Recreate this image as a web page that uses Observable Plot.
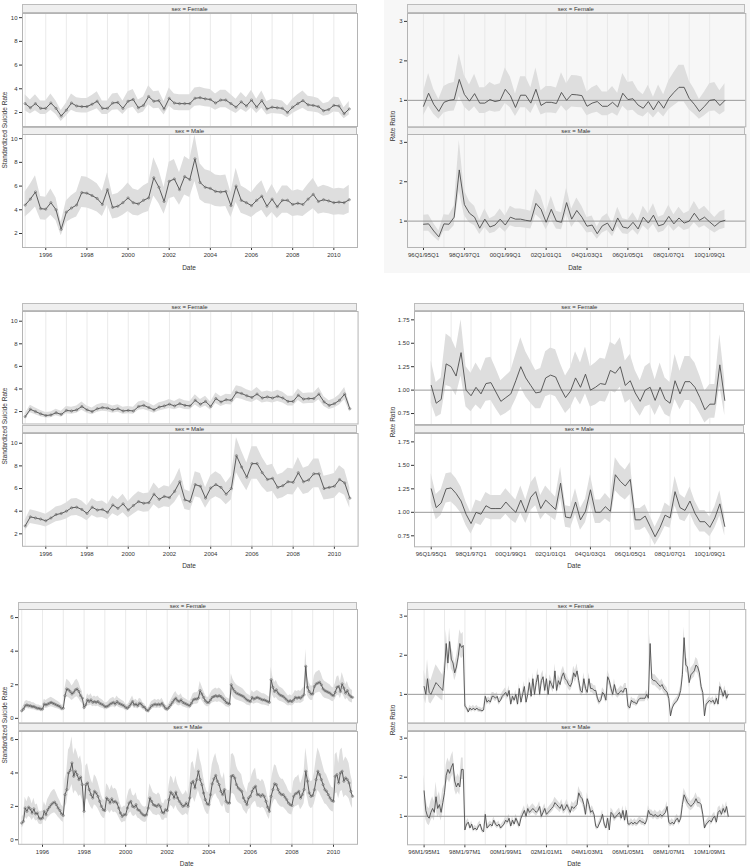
<!DOCTYPE html>
<html><head><meta charset="utf-8">
<script src="https://cdn.jsdelivr.net/npm/d3@7"></script>
<script src="https://cdn.jsdelivr.net/npm/@observablehq/plot@0.6"></script>
<style>
html,body{margin:0;padding:0;background:#fff;}
#root{position:relative;width:750px;height:866px;overflow:hidden;font-family:"Liberation Sans",Arial,sans-serif;color:#333;}
.strip{position:absolute;box-sizing:border-box;background:#efefef;border:1px solid #bcbcbc;font-size:6px;color:#333;display:flex;align-items:center;justify-content:center;white-space:nowrap;}
.lbl{position:absolute;font-size:6.5px;color:#333;white-space:nowrap;}
</style></head><body><div id="root"></div>
<script>
// ---------- tick labels ----------
const gridYears = [1995,1996,1997,1998,1999,2000,2001,2002,2003,2004,2005,2006,2007,2008,2009,2010];
const yearTicks = [1996,1998,2000,2002,2004,2006,2008,2010];
const quarterTickLabels = ["96Q1/95Q1","98Q1/97Q1","00Q1/99Q1","02Q1/01Q1","04Q1/03Q1","06Q1/05Q1","08Q1/07Q1","10Q1/09Q1"];
const monthTickLabels = ["96M1/95M1","98M1/97M1","00M1/99M1","02M1/01M1","04M1/03M1","06M1/05M1","08M1/07M1","10M1/09M1"];
const sexLabels = ["sex = Female","sex = Male"];

// ---------- Panel 1: quarterly standardized suicide rate ----------
const rateA_F = [2.75,2.4,2.75,2.35, 2.35,2.8,2.35,1.7, 2.2,2.8,2.55,2.5, 2.5,2.7,2.95,2.35, 2.35,2.8,2.85,2.35, 2.95,3.1,2.4,2.6, 3.35,2.95,3.0,2.3, 3.2,2.8,2.75,2.75, 2.75,3.2,3.25,3.15, 3.1,2.8,3.05,3.05, 2.75,2.45,2.9,2.55, 3.05,2.45,3.0,2.3, 2.45,2.4,2.35,2.0, 2.45,2.75,3.0,2.65, 2.6,2.5,2.15,2.25, 2.6,2.55,1.9,2.3];
const rateA_F_lo = [2.15,1.88,2.15,1.83, 1.83,2.2,1.83,1.25, 1.7,2.2,2.0,1.95, 1.95,2.12,2.32,1.83, 1.83,2.2,2.24,1.83, 2.32,2.45,1.88,2.04, 2.65,2.32,2.36,1.8, 2.52,2.2,2.15,2.15, 2.15,2.52,2.56,2.48, 2.45,2.2,2.4,2.4, 2.15,1.92,2.28,2.0, 2.4,1.92,2.36,1.8, 1.92,1.88,1.83,1.56, 1.92,2.15,2.36,2.08, 2.04,1.95,1.68,1.76, 2.04,2.0,1.48,1.8];
const rateA_F_hi = [3.49,3.05,3.49,2.98, 2.98,3.56,2.98,2.16, 2.79,3.56,3.24,3.18, 3.18,3.43,3.75,2.98, 2.98,3.56,3.62,2.98, 3.75,3.94,3.05,3.3, 4.25,3.75,3.81,2.92, 4.06,3.56,3.49,3.49, 3.49,4.06,4.13,4.0, 3.94,3.56,3.87,3.87, 3.49,3.11,3.68,3.24, 3.87,3.11,3.81,2.92, 3.11,3.05,2.98,2.54, 3.11,3.49,3.81,3.37, 3.3,3.18,2.73,2.86, 3.3,3.24,2.41,2.92];
const rateA_M = [4.4,4.9,5.5,4.1, 4.05,4.6,4.0,2.35, 3.8,4.15,4.4,5.45, 5.4,5.2,4.95,4.45, 5.7,4.2,4.3,4.6, 5.0,4.6,4.5,4.8, 5.0,6.7,5.9,4.7, 6.4,6.6,5.7,6.8, 6.55,8.3,6.3,5.9, 5.8,5.55,5.5,5.55, 4.35,6.0,4.8,4.6, 4.35,4.8,5.15,4.3, 4.9,4.25,4.8,4.8, 4.45,4.55,4.45,4.9, 5.3,4.7,4.85,4.75, 4.6,4.65,4.6,4.85];
const rateA_M_lo = [3.39,3.77,4.24,3.16, 3.12,3.54,3.08,1.81, 2.93,3.2,3.39,4.2, 4.16,4.0,3.81,3.43, 4.39,3.23,3.31,3.54, 3.85,3.54,3.47,3.7, 3.85,5.16,4.54,3.62, 4.93,5.08,4.39,5.24, 5.04,6.39,4.85,4.54, 4.47,4.27,4.24,4.27, 3.35,4.62,3.7,3.54, 3.35,3.7,3.97,3.31, 3.77,3.27,3.7,3.7, 3.43,3.5,3.43,3.77, 4.08,3.62,3.73,3.66, 3.54,3.58,3.54,3.73];
const rateA_M_hi = [5.5,6.13,6.88,5.13, 5.06,5.75,5.0,2.94, 4.75,5.19,5.5,6.81, 6.75,6.5,6.19,5.56, 7.13,5.25,5.38,5.75, 6.25,5.75,5.63,6.0, 6.25,8.38,7.38,5.88, 8.0,8.25,7.13,8.5, 8.19,10.3,7.88,7.38, 7.25,6.94,6.88,6.94, 5.44,7.5,6.0,5.75, 5.44,6.0,6.44,5.38, 6.13,5.31,6.0,6.0, 5.56,5.69,5.56,6.13, 6.63,5.88,6.06,5.94, 5.75,5.81,5.75,6.06];

// ---------- Panel 2: quarterly rate ratio ----------
const rrA_F = [0.85,1.18,0.9,0.72,0.95,1.0,1.02,1.53,1.15,0.98, 1.17,0.93,0.93,1.02,0.97,1.0,1.28,1.12,0.82,1.13, 1.13,0.93,1.28,0.87,0.95,0.95,0.92,1.2,1.0,1.15, 1.14,1.12,0.85,0.93,0.97,0.85,0.85,0.95,0.83,1.18, 1.02,1.04,0.88,0.8,0.97,0.76,0.98,0.8,1.05,1.2, 1.33,1.33,1.05,0.9,0.72,0.85,1.0,1.02,0.87,1.0];
const rrA_F_lo = [0.61,0.85,0.65,0.52,0.68,0.72,0.73,1.1,0.83,0.71, 0.84,0.67,0.67,0.73,0.7,0.72,0.92,0.81,0.59,0.81, 0.81,0.67,0.92,0.63,0.68,0.68,0.66,0.86,0.72,0.83, 0.82,0.81,0.61,0.67,0.7,0.61,0.61,0.68,0.6,0.85, 0.73,0.75,0.63,0.58,0.7,0.55,0.71,0.58,0.76,0.86, 0.96,0.96,0.76,0.65,0.52,0.61,0.72,0.73,0.63,0.72];
const rrA_F_hi = [1.21,1.68,1.28,1.02,1.35,1.42,1.45,2.17,1.63,1.39, 1.66,1.32,1.32,1.45,1.38,1.42,1.82,1.59,1.16,1.6, 1.6,1.32,1.82,1.24,1.35,1.35,1.31,1.7,1.42,1.63, 1.62,1.59,1.21,1.32,1.38,1.21,1.21,1.35,1.18,1.68, 1.45,1.48,1.25,1.14,1.38,1.08,1.39,1.14,1.49,1.7, 1.89,1.89,1.49,1.28,1.02,1.21,1.42,1.45,1.24,1.42];
const rrA_M = [0.92,0.93,0.75,0.6,0.93,0.92,1.1,2.3,1.42,1.2, 1.1,0.82,1.05,0.85,0.9,1.05,0.9,1.1,1.05,1.05, 1.02,1.0,1.45,1.3,0.97,1.3,1.0,0.97,1.47,1.05, 1.27,1.1,0.87,0.9,0.68,0.88,0.95,0.75,1.08,0.85, 0.82,0.97,0.8,1.1,0.95,1.15,0.88,0.92,1.12,0.93, 1.08,0.95,1.0,1.2,1.02,1.1,0.98,0.87,0.98,1.02];
const rrA_M_lo = [0.74,0.74,0.6,0.48,0.74,0.74,0.88,1.75,1.14,0.96, 0.88,0.66,0.84,0.68,0.72,0.84,0.72,0.88,0.84,0.84, 0.82,0.8,1.16,1.04,0.78,1.04,0.8,0.78,1.18,0.84, 1.02,0.88,0.7,0.72,0.54,0.7,0.76,0.6,0.86,0.68, 0.66,0.78,0.64,0.88,0.76,0.92,0.7,0.74,0.9,0.74, 0.86,0.76,0.8,0.96,0.82,0.88,0.78,0.7,0.78,0.82];
const rrA_M_hi = [1.15,1.16,0.94,0.75,1.16,1.15,1.38,3.05,1.78,1.5, 1.38,1.03,1.31,1.06,1.13,1.31,1.13,1.38,1.31,1.31, 1.28,1.25,1.81,1.63,1.21,1.63,1.25,1.21,1.84,1.31, 1.59,1.38,1.09,1.13,0.85,1.1,1.19,0.94,1.35,1.06, 1.03,1.21,1.0,1.38,1.19,1.44,1.1,1.15,1.4,1.16, 1.35,1.19,1.25,1.5,1.28,1.38,1.23,1.09,1.23,1.28];

// ---------- Panel 3: quarterly standardized suicide rate ----------
const rateB_F = [1.55,2.2,2.0,1.8, 1.65,1.7,1.9,1.75, 2.1,2.05,2.15,2.45, 2.15,2.0,2.25,2.35, 2.3,2.15,2.25,2.05, 2.1,2.05,2.45,2.55, 2.35,2.15,2.4,2.5, 2.65,2.5,2.7,2.55, 2.5,3.0,2.65,2.9, 2.45,3.15,2.85,3.05, 3.0,3.7,3.6,3.4, 3.25,3.55,3.2,3.3, 3.2,3.35,3.2,2.9, 2.9,3.45,3.1,3.15, 3.15,3.55,2.85,2.55, 2.7,3.0,3.55,2.25];
const rateB_F_lo = [1.33,1.89,1.72,1.55, 1.42,1.46,1.63,1.5, 1.81,1.76,1.85,2.11, 1.85,1.72,1.94,2.02, 1.98,1.85,1.94,1.76, 1.81,1.76,2.11,2.19, 2.02,1.85,2.06,2.15, 2.28,2.15,2.32,2.19, 2.15,2.58,2.28,2.49, 2.11,2.71,2.45,2.62, 2.58,3.18,3.1,2.92, 2.8,3.05,2.75,2.84, 2.75,2.88,2.75,2.49, 2.49,2.97,2.67,2.71, 2.71,3.05,2.45,2.19, 2.32,2.58,3.05,1.94];
const rateB_F_hi = [1.8,2.55,2.32,2.09, 1.91,1.97,2.2,2.03, 2.44,2.38,2.49,2.84, 2.49,2.32,2.61,2.73, 2.67,2.49,2.61,2.38, 2.44,2.38,2.84,2.96, 2.73,2.49,2.78,2.9, 3.07,2.9,3.13,2.96, 2.9,3.48,3.07,3.36, 2.84,3.65,3.31,3.54, 3.48,4.29,4.18,3.94, 3.77,4.12,3.71,3.83, 3.71,3.89,3.71,3.36, 3.36,4.0,3.6,3.65, 3.65,4.12,3.31,2.96, 3.13,3.48,4.12,2.61];
const rateB_M = [2.7,3.5,3.4,3.3, 3.15,3.4,3.7,3.8, 4.0,4.3,4.35,4.15, 3.8,4.35,4.1,4.15, 3.9,4.55,4.25,4.65, 4.1,4.5,4.85,4.7, 4.75,5.5,5.05,5.3, 5.2,5.75,6.6,5.0, 4.85,6.35,6.2,5.15, 6.05,6.35,6.1,5.5, 6.0,8.9,7.9,7.0, 8.2,8.2,7.4,6.8, 6.9,6.1,6.25,6.6, 6.55,7.4,6.6,6.75, 7.3,7.3,6.0,6.1, 6.2,6.8,6.5,5.15];
const rateB_M_lo = [2.24,2.91,2.82,2.74, 2.61,2.82,3.07,3.15, 3.32,3.57,3.61,3.44, 3.15,3.61,3.4,3.44, 3.24,3.78,3.53,3.86, 3.4,3.74,4.03,3.9, 3.94,4.57,4.19,4.4, 4.32,4.77,5.48,4.15, 4.03,5.27,5.15,4.27, 5.02,5.27,5.06,4.57, 4.98,7.39,6.56,5.81, 6.81,6.81,6.14,5.64, 5.73,5.06,5.19,5.48, 5.44,6.14,5.48,5.6, 6.06,6.06,4.98,5.06, 5.15,5.64,5.4,4.27];
const rateB_M_hi = [3.19,4.13,4.01,3.89, 3.72,4.01,4.37,4.48, 4.72,5.07,5.13,4.9, 4.48,5.13,4.84,4.9, 4.6,5.37,5.02,5.49, 4.84,5.31,5.72,5.55, 5.61,6.49,5.96,6.25, 6.14,6.79,7.79,5.9, 5.72,7.49,7.32,6.08, 7.14,7.49,7.2,6.49, 7.08,10.5,9.32,8.26, 9.68,9.68,8.73,8.02, 8.14,7.2,7.38,7.79, 7.73,8.73,7.79,7.97, 8.61,8.61,7.08,7.2, 7.32,8.02,7.67,6.08];

// ---------- Panel 4: quarterly rate ratio ----------
const rrB_F = [1.05,0.86,0.9,1.28,1.25,1.15,1.4,1.0,0.94,1.03, 0.96,1.07,1.08,0.98,0.88,0.92,0.96,1.1,1.25,1.13, 1.05,0.97,0.98,1.13,1.16,1.14,1.02,0.92,0.99,1.13, 1.03,1.17,1.0,1.03,1.07,1.06,1.21,1.18,1.25,1.05, 1.1,0.97,0.88,1.0,1.03,0.89,1.03,0.9,0.86,1.1, 0.96,1.09,1.09,1.03,0.92,0.79,0.85,0.85,1.27,0.89];
const rrB_F_lo = [0.86,0.71,0.74,1.05,1.03,0.94,1.15,0.82,0.77,0.84, 0.79,0.88,0.89,0.8,0.72,0.75,0.79,0.9,1.03,0.93, 0.86,0.8,0.8,0.93,0.95,0.93,0.84,0.75,0.81,0.93, 0.84,0.96,0.82,0.84,0.88,0.87,0.99,0.97,1.03,0.86, 0.9,0.8,0.72,0.82,0.84,0.73,0.84,0.74,0.71,0.9, 0.79,0.89,0.89,0.84,0.75,0.65,0.7,0.7,1.04,0.73];
const rrB_F_hi = [1.31,1.08,1.13,1.6,1.56,1.44,1.75,1.25,1.18,1.29, 1.2,1.34,1.35,1.23,1.1,1.15,1.2,1.38,1.56,1.41, 1.31,1.21,1.23,1.41,1.45,1.43,1.28,1.15,1.24,1.41, 1.29,1.46,1.25,1.29,1.34,1.33,1.51,1.48,1.56,1.31, 1.38,1.21,1.1,1.25,1.29,1.11,1.29,1.13,1.08,1.38, 1.2,1.36,1.36,1.29,1.15,0.99,1.06,1.06,1.59,1.11];
const rrB_M = [1.25,1.05,1.1,1.25,1.26,1.2,1.12,0.98,0.88,1.0, 0.98,1.07,1.04,1.04,1.04,1.11,1.05,1.0,1.13,1.0, 1.16,1.22,1.04,1.13,1.08,1.03,1.31,0.95,0.94,1.11, 0.92,1.01,1.24,1.0,1.0,1.06,1.01,1.4,1.33,1.28, 1.35,0.92,0.92,0.96,0.85,0.74,0.84,0.97,0.94,1.22, 1.05,1.02,1.12,0.99,0.9,0.9,0.84,0.94,1.09,0.85];
const rrB_M_lo = [1.1,0.92,0.97,1.1,1.11,1.06,0.99,0.86,0.77,0.88, 0.86,0.94,0.92,0.92,0.92,0.98,0.92,0.88,0.99,0.88, 1.02,1.07,0.92,0.99,0.95,0.91,1.15,0.84,0.83,0.98, 0.81,0.89,1.09,0.88,0.88,0.93,0.89,1.23,1.17,1.13, 1.19,0.81,0.81,0.84,0.75,0.65,0.74,0.85,0.83,1.07, 0.92,0.9,0.99,0.87,0.79,0.79,0.74,0.83,0.96,0.75];
const rrB_M_hi = [1.41,1.19,1.24,1.41,1.42,1.36,1.27,1.11,0.99,1.13, 1.11,1.21,1.18,1.18,1.18,1.25,1.19,1.13,1.28,1.13, 1.31,1.38,1.18,1.28,1.22,1.16,1.48,1.07,1.06,1.25, 1.04,1.14,1.4,1.13,1.13,1.2,1.14,1.58,1.5,1.45, 1.53,1.04,1.04,1.08,0.96,0.84,0.95,1.1,1.06,1.38, 1.19,1.15,1.27,1.12,1.02,1.02,0.95,1.06,1.23,0.96];

// ---------- Panel 5: monthly standardized suicide rate ----------
const rateC_F = [
0.45,0.55,0.75,0.8,0.75,0.75,0.7,0.7,0.65,0.6,0.6,0.55,
0.55,0.85,0.8,0.85,0.9,0.95,0.9,0.85,0.8,0.75,0.7,0.6,
0.6,1.35,1.75,1.7,1.6,1.45,1.55,1.7,1.75,1.6,1.35,1.2,
0.65,0.8,1.1,1.0,1.1,0.95,1.0,0.95,1.0,0.9,0.85,0.8,
0.7,0.7,0.75,0.85,0.9,0.95,0.85,1.0,0.9,0.85,0.8,0.75,
0.65,0.6,0.7,0.85,1.0,0.8,0.85,0.75,0.9,0.85,0.7,0.65,
0.5,0.45,0.6,0.75,0.8,0.85,0.8,0.85,0.8,0.9,0.75,0.6,
0.55,0.65,0.8,0.95,1.1,1.2,1.05,1.0,1.1,0.95,0.9,0.85,
0.8,0.75,0.9,1.1,1.15,1.15,1.2,1.65,1.45,1.25,1.05,0.95,
0.95,1.1,1.25,1.3,1.35,1.3,1.35,1.3,1.2,1.1,0.95,0.9,
0.85,2.0,1.75,1.6,1.5,1.45,1.4,1.35,1.3,1.2,1.1,1.05,
1.0,1.25,1.15,1.2,1.25,1.2,1.15,1.1,1.1,1.05,1.0,0.95,
2.3,1.85,1.6,1.7,1.5,1.4,1.35,1.3,1.2,1.1,1.0,1.05,
1.0,1.1,1.25,1.2,1.25,1.2,1.3,1.4,3.1,1.85,1.6,1.45,
1.45,1.9,2.05,2.1,2.15,2.0,1.75,1.65,1.6,1.55,1.5,1.4,
1.35,1.55,1.85,1.9,1.6,2.05,1.8,1.5,1.65,1.4,1.3,1.25];
const rateC_F_lo = [
0.33,0.4,0.55,0.58,0.55,0.55,0.51,0.51,0.47,0.44,0.44,0.4,
0.4,0.62,0.58,0.62,0.66,0.69,0.66,0.62,0.58,0.55,0.51,0.44,
0.44,0.99,1.28,1.24,1.17,1.06,1.13,1.24,1.28,1.17,0.99,0.88,
0.47,0.58,0.8,0.73,0.8,0.69,0.73,0.69,0.73,0.66,0.62,0.58,
0.51,0.51,0.55,0.62,0.66,0.69,0.62,0.73,0.66,0.62,0.58,0.55,
0.47,0.44,0.51,0.62,0.73,0.58,0.62,0.55,0.66,0.62,0.51,0.47,
0.37,0.33,0.44,0.55,0.58,0.62,0.58,0.62,0.58,0.66,0.55,0.44,
0.4,0.47,0.58,0.69,0.8,0.88,0.77,0.73,0.8,0.69,0.66,0.62,
0.58,0.55,0.66,0.8,0.84,0.84,0.88,1.2,1.06,0.91,0.77,0.69,
0.69,0.8,0.91,0.95,0.99,0.95,0.99,0.95,0.88,0.8,0.69,0.66,
0.62,1.46,1.28,1.17,1.1,1.06,1.02,0.99,0.95,0.88,0.8,0.77,
0.73,0.91,0.84,0.88,0.91,0.88,0.84,0.8,0.8,0.77,0.73,0.69,
1.68,1.35,1.17,1.24,1.1,1.02,0.99,0.95,0.88,0.8,0.73,0.77,
0.73,0.8,0.91,0.88,0.91,0.88,0.95,1.02,2.26,1.35,1.17,1.06,
1.06,1.39,1.5,1.53,1.57,1.46,1.28,1.2,1.17,1.13,1.1,1.02,
0.99,1.13,1.35,1.39,1.17,1.5,1.31,1.1,1.2,1.02,0.95,0.91];
const rateC_F_hi = [
0.6,0.73,1.0,1.06,1.0,1.0,0.93,0.93,0.86,0.8,0.8,0.73,
0.73,1.13,1.06,1.13,1.2,1.26,1.2,1.13,1.06,1.0,0.93,0.8,
0.8,1.8,2.33,2.26,2.13,1.93,2.06,2.26,2.33,2.13,1.8,1.6,
0.86,1.06,1.46,1.33,1.46,1.26,1.33,1.26,1.33,1.2,1.13,1.06,
0.93,0.93,1.0,1.13,1.2,1.26,1.13,1.33,1.2,1.13,1.06,1.0,
0.86,0.8,0.93,1.13,1.33,1.06,1.13,1.0,1.2,1.13,0.93,0.86,
0.67,0.6,0.8,1.0,1.06,1.13,1.06,1.13,1.06,1.2,1.0,0.8,
0.73,0.86,1.06,1.26,1.46,1.6,1.4,1.33,1.46,1.26,1.2,1.13,
1.06,1.0,1.2,1.46,1.53,1.53,1.6,2.19,1.93,1.66,1.4,1.26,
1.26,1.46,1.66,1.73,1.8,1.73,1.8,1.73,1.6,1.46,1.26,1.2,
1.13,2.66,2.33,2.13,2.0,1.93,1.86,1.8,1.73,1.6,1.46,1.4,
1.33,1.66,1.53,1.6,1.66,1.6,1.53,1.46,1.46,1.4,1.33,1.26,
3.06,2.46,2.13,2.26,2.0,1.86,1.8,1.73,1.6,1.46,1.33,1.4,
1.33,1.46,1.66,1.6,1.66,1.6,1.73,1.86,4.12,2.46,2.13,1.93,
1.93,2.53,2.73,2.79,2.86,2.66,2.33,2.19,2.13,2.06,2.0,1.86,
1.8,2.06,2.46,2.53,2.13,2.73,2.39,2.0,2.19,1.86,1.73,1.66];
const rateC_M = [
1.0,1.1,1.9,1.7,1.95,1.85,1.6,1.85,1.55,1.6,1.3,1.25,
1.3,1.7,1.5,1.8,1.95,2.1,2.2,2.25,2.1,1.9,1.75,1.55,
1.45,2.7,3.0,4.0,4.15,4.6,3.8,4.1,3.9,3.6,3.75,3.3,
1.7,3.3,3.4,3.0,2.7,2.5,2.9,2.8,2.6,2.3,2.0,1.8,
1.75,2.5,2.4,2.2,2.45,2.25,2.3,2.2,1.9,1.6,1.4,1.5,
1.5,1.9,2.2,2.3,2.0,1.95,2.1,1.8,1.75,1.6,1.5,1.45,
1.5,1.9,2.5,2.3,2.1,2.05,2.0,2.1,2.0,1.65,1.6,1.8,
1.75,2.4,2.85,2.75,2.5,2.85,2.5,2.3,2.15,2.0,2.05,2.2,
2.0,2.5,3.4,3.5,3.1,3.6,4.1,3.6,3.3,2.8,2.4,2.15,
2.1,2.7,3.35,3.65,3.85,3.5,3.3,2.9,2.7,3.0,2.3,2.2,
2.2,3.8,3.85,3.7,3.3,3.1,3.0,2.9,2.5,2.3,2.1,2.5,
2.6,2.9,3.1,3.2,2.7,2.7,2.6,2.7,2.6,2.3,1.95,1.7,
2.6,3.0,3.35,3.3,3.0,2.8,2.7,2.7,2.55,2.4,2.2,2.1,
2.05,2.6,2.75,2.8,2.9,2.5,2.7,3.0,4.1,3.5,2.8,2.6,
2.65,3.0,3.6,4.1,3.9,3.6,3.3,3.0,2.9,2.7,2.5,2.35,
2.3,3.8,3.9,3.4,4.0,4.1,3.5,3.7,3.6,3.4,2.9,2.6];
const rateC_M_lo = [
0.72,0.79,1.37,1.22,1.4,1.33,1.15,1.33,1.12,1.15,0.94,0.9,
0.94,1.22,1.08,1.3,1.4,1.51,1.58,1.62,1.51,1.37,1.26,1.12,
1.04,1.94,2.16,2.88,2.99,3.31,2.74,2.95,2.81,2.59,2.7,2.38,
1.22,2.38,2.45,2.16,1.94,1.8,2.09,2.02,1.87,1.66,1.44,1.3,
1.26,1.8,1.73,1.58,1.76,1.62,1.66,1.58,1.37,1.15,1.01,1.08,
1.08,1.37,1.58,1.66,1.44,1.4,1.51,1.3,1.26,1.15,1.08,1.04,
1.08,1.37,1.8,1.66,1.51,1.48,1.44,1.51,1.44,1.19,1.15,1.3,
1.26,1.73,2.05,1.98,1.8,2.05,1.8,1.66,1.55,1.44,1.48,1.58,
1.44,1.8,2.45,2.52,2.23,2.59,2.95,2.59,2.38,2.02,1.73,1.55,
1.51,1.94,2.41,2.63,2.77,2.52,2.38,2.09,1.94,2.16,1.66,1.58,
1.58,2.74,2.77,2.66,2.38,2.23,2.16,2.09,1.8,1.66,1.51,1.8,
1.87,2.09,2.23,2.3,1.94,1.94,1.87,1.94,1.87,1.66,1.4,1.22,
1.87,2.16,2.41,2.38,2.16,2.02,1.94,1.94,1.84,1.73,1.58,1.51,
1.48,1.87,1.98,2.02,2.09,1.8,1.94,2.16,2.95,2.52,2.02,1.87,
1.91,2.16,2.59,2.95,2.81,2.59,2.38,2.16,2.09,1.94,1.8,1.69,
1.66,2.74,2.81,2.45,2.88,2.95,2.52,2.66,2.59,2.45,2.09,1.87];
const rateC_M_hi = [
1.34,1.47,2.55,2.28,2.61,2.48,2.14,2.48,2.08,2.14,1.74,1.68,
1.74,2.28,2.01,2.41,2.61,2.81,2.95,3.02,2.81,2.55,2.35,2.08,
1.94,3.62,4.02,5.36,5.56,6.16,5.09,5.49,5.23,4.82,5.03,4.42,
2.28,4.42,4.56,4.02,3.62,3.35,3.89,3.75,3.48,3.08,2.68,2.41,
2.35,3.35,3.22,2.95,3.28,3.02,3.08,2.95,2.55,2.14,1.88,2.01,
2.01,2.55,2.95,3.08,2.68,2.61,2.81,2.41,2.35,2.14,2.01,1.94,
2.01,2.55,3.35,3.08,2.81,2.75,2.68,2.81,2.68,2.21,2.14,2.41,
2.35,3.22,3.82,3.69,3.35,3.82,3.35,3.08,2.88,2.68,2.75,2.95,
2.68,3.35,4.56,4.69,4.15,4.82,5.49,4.82,4.42,3.75,3.22,2.88,
2.81,3.62,4.49,4.89,5.16,4.69,4.42,3.89,3.62,4.02,3.08,2.95,
2.95,5.09,5.16,4.96,4.42,4.15,4.02,3.89,3.35,3.08,2.81,3.35,
3.48,3.89,4.15,4.29,3.62,3.62,3.48,3.62,3.48,3.08,2.61,2.28,
3.48,4.02,4.49,4.42,4.02,3.75,3.62,3.62,3.42,3.22,2.95,2.81,
2.75,3.48,3.69,3.75,3.89,3.35,3.62,4.02,5.49,4.69,3.75,3.48,
3.55,4.02,4.82,5.49,5.23,4.82,4.42,4.02,3.89,3.62,3.35,3.15,
3.08,5.09,5.23,4.56,5.36,5.49,4.69,4.96,4.82,4.56,3.89,3.48];

// ---------- Panel 6: monthly rate ratio ----------
const rrC_F = [
1.2,1.0,1.4,1.05,1.0,1.1,1.2,1.3,1.25,1.2,1.15,1.1,
1.6,2.3,1.8,2.35,1.9,1.8,1.55,1.7,1.95,2.3,2.2,2.25,
0.7,0.65,0.55,0.65,0.6,0.65,0.6,0.65,0.6,0.6,0.58,0.6,
0.95,0.8,0.85,0.8,0.95,0.95,0.9,0.95,0.8,0.85,0.95,1.0,
1.05,0.95,1.1,0.75,0.95,0.85,1.0,0.75,1.15,0.8,1.0,1.2,
0.8,1.0,1.3,0.95,1.4,1.0,1.3,1.5,1.0,1.35,1.45,1.1,
1.4,1.0,1.35,1.25,1.15,1.6,1.1,1.35,1.25,1.45,1.55,1.4,
1.35,1.25,1.2,1.3,1.55,1.45,1.6,1.35,1.1,1.05,1.4,1.15,
1.05,1.4,1.15,1.15,1.1,1.1,0.9,0.8,0.85,1.05,1.0,0.85,
1.45,1.35,1.15,1.0,1.25,1.05,1.0,1.05,1.1,1.05,1.15,1.15,
0.7,0.65,0.85,0.8,0.8,0.75,0.85,0.9,0.9,0.9,0.9,1.0,
0.9,2.3,1.4,1.35,1.35,1.3,1.25,1.2,1.25,1.15,1.1,1.05,
0.9,0.45,0.65,0.75,0.8,0.85,0.95,1.1,1.5,2.45,1.75,1.7,
1.3,1.5,1.55,1.6,1.75,1.7,1.55,1.2,1.05,0.45,0.75,0.8,
0.85,0.8,0.85,0.75,0.9,0.75,1.2,1.1,0.95,1.1,0.9,1.0];
const rrC_F_lo = [
0.9,0.75,1.05,0.79,0.75,0.83,0.9,0.98,0.94,0.9,0.86,0.83,
1.39,2.0,1.57,2.04,1.65,1.57,1.35,1.48,1.7,2.0,1.91,1.96,
0.63,0.59,0.5,0.59,0.54,0.59,0.54,0.59,0.54,0.54,0.52,0.54,
0.86,0.72,0.77,0.72,0.86,0.86,0.81,0.86,0.72,0.77,0.86,0.9,
0.95,0.86,0.99,0.68,0.86,0.77,0.9,0.68,1.04,0.72,0.9,1.08,
0.72,0.9,1.17,0.86,1.26,0.9,1.17,1.35,0.9,1.22,1.31,0.99,
1.26,0.9,1.22,1.13,1.04,1.44,0.99,1.22,1.13,1.31,1.4,1.26,
1.22,1.13,1.08,1.17,1.4,1.31,1.44,1.22,0.99,0.95,1.26,1.04,
0.95,1.26,1.04,1.04,0.99,0.99,0.81,0.72,0.77,0.95,0.9,0.77,
1.31,1.22,1.04,0.9,1.13,0.95,0.9,0.95,0.99,0.95,1.04,1.04,
0.63,0.59,0.77,0.72,0.72,0.68,0.77,0.81,0.81,0.81,0.81,0.9,
0.81,2.07,1.26,1.22,1.22,1.17,1.13,1.08,1.13,1.04,0.99,0.95,
0.81,0.41,0.59,0.68,0.72,0.77,0.86,0.99,1.35,2.21,1.58,1.53,
1.17,1.35,1.4,1.44,1.58,1.53,1.4,1.08,0.95,0.41,0.68,0.72,
0.77,0.72,0.77,0.68,0.81,0.68,1.08,0.99,0.86,0.99,0.81,0.9];
const rrC_F_hi = [
1.62,1.35,1.89,1.42,1.35,1.49,1.62,1.76,1.69,1.62,1.55,1.49,
1.84,2.65,2.07,2.7,2.19,2.07,1.78,1.96,2.24,2.65,2.53,2.59,
0.78,0.72,0.61,0.72,0.67,0.72,0.67,0.72,0.67,0.67,0.64,0.67,
1.05,0.89,0.94,0.89,1.05,1.05,1.0,1.05,0.89,0.94,1.05,1.11,
1.17,1.05,1.22,0.83,1.05,0.94,1.11,0.83,1.28,0.89,1.11,1.33,
0.89,1.11,1.44,1.05,1.55,1.11,1.44,1.67,1.11,1.5,1.61,1.22,
1.55,1.11,1.5,1.39,1.28,1.78,1.22,1.5,1.39,1.61,1.72,1.55,
1.5,1.39,1.33,1.44,1.72,1.61,1.78,1.5,1.22,1.17,1.55,1.28,
1.17,1.55,1.28,1.28,1.22,1.22,1.0,0.89,0.94,1.17,1.11,0.94,
1.61,1.5,1.28,1.11,1.39,1.17,1.11,1.17,1.22,1.17,1.28,1.28,
0.78,0.72,0.94,0.89,0.89,0.83,0.94,1.0,1.0,1.0,1.0,1.11,
1.0,2.55,1.55,1.5,1.5,1.44,1.39,1.33,1.39,1.28,1.22,1.17,
1.0,0.5,0.72,0.83,0.89,0.94,1.05,1.22,1.67,2.72,1.94,1.89,
1.44,1.67,1.72,1.78,1.94,1.89,1.72,1.33,1.17,0.5,0.83,0.89,
0.94,0.89,0.94,0.83,1.0,0.83,1.33,1.22,1.05,1.22,1.0,1.11];
const rrC_M = [
1.65,1.15,1.0,0.95,1.1,1.2,1.1,1.5,1.2,1.3,1.1,1.35,
1.6,2.05,2.2,2.1,2.25,2.35,1.9,1.75,1.85,1.75,2.2,2.2,
0.65,0.8,0.85,0.7,0.8,0.65,0.7,0.65,0.75,0.8,0.65,0.6,
1.05,0.7,0.75,0.8,0.75,0.9,0.8,0.75,0.8,0.7,0.75,0.8,
0.9,0.85,0.95,0.75,0.9,0.8,0.95,0.85,0.75,0.95,1.05,1.15,
1.0,1.2,1.1,1.15,1.2,1.15,1.1,1.15,1.25,1.0,1.1,1.2,
1.05,1.1,1.15,1.2,1.25,1.35,1.3,1.25,1.2,1.3,1.15,1.2,
1.3,1.2,1.1,1.25,1.2,1.25,1.3,1.6,1.5,1.45,1.3,1.05,
1.45,1.3,1.1,1.15,1.05,0.75,0.7,0.8,0.9,1.05,0.8,0.7,
0.95,0.65,1.1,1.05,0.95,1.0,1.05,1.1,0.95,1.15,0.9,1.15,
0.8,0.8,0.85,0.8,0.85,0.8,0.85,0.9,0.85,0.85,0.8,0.9,
1.15,1.05,1.05,1.0,1.05,1.0,1.0,1.05,1.0,1.05,1.1,1.25,
0.85,0.8,0.85,0.8,0.9,0.95,0.85,0.95,1.3,1.55,1.45,1.35,
1.3,1.25,1.3,1.35,1.45,1.35,1.35,1.3,1.05,0.7,0.8,0.85,
0.9,0.85,0.95,1.0,0.85,1.1,1.15,1.05,1.2,1.1,1.25,1.0];
const rrC_M_lo = [
1.32,0.92,0.8,0.76,0.88,0.96,0.88,1.2,0.96,1.04,0.88,1.08,
1.41,1.8,1.94,1.85,1.98,2.07,1.67,1.54,1.63,1.54,1.94,1.94,
0.59,0.73,0.77,0.64,0.73,0.59,0.64,0.59,0.68,0.73,0.59,0.55,
0.96,0.64,0.68,0.73,0.68,0.82,0.73,0.68,0.73,0.64,0.68,0.73,
0.82,0.77,0.86,0.68,0.82,0.73,0.86,0.77,0.68,0.86,0.96,1.05,
0.91,1.09,1.0,1.05,1.09,1.05,1.0,1.05,1.14,0.91,1.0,1.09,
0.96,1.0,1.05,1.09,1.14,1.23,1.18,1.14,1.09,1.18,1.05,1.09,
1.18,1.09,1.0,1.14,1.09,1.14,1.18,1.46,1.37,1.32,1.18,0.96,
1.32,1.18,1.0,1.05,0.96,0.68,0.64,0.73,0.82,0.96,0.73,0.64,
0.86,0.59,1.0,0.96,0.86,0.91,0.96,1.0,0.86,1.05,0.82,1.05,
0.73,0.73,0.77,0.73,0.77,0.73,0.77,0.82,0.77,0.77,0.73,0.82,
1.05,0.96,0.96,0.91,0.96,0.91,0.91,0.96,0.91,0.96,1.0,1.14,
0.77,0.73,0.77,0.73,0.82,0.86,0.77,0.86,1.18,1.41,1.32,1.23,
1.18,1.14,1.18,1.23,1.32,1.23,1.23,1.18,0.96,0.64,0.73,0.77,
0.82,0.77,0.86,0.91,0.77,1.0,1.05,0.96,1.09,1.0,1.14,0.91];
const rrC_M_hi = [
2.06,1.44,1.25,1.19,1.38,1.5,1.38,1.88,1.5,1.63,1.38,1.69,
1.81,2.32,2.49,2.37,2.54,2.66,2.15,1.98,2.09,1.98,2.49,2.49,
0.72,0.88,0.94,0.77,0.88,0.72,0.77,0.72,0.83,0.88,0.72,0.66,
1.16,0.77,0.83,0.88,0.83,0.99,0.88,0.83,0.88,0.77,0.83,0.88,
0.99,0.94,1.05,0.83,0.99,0.88,1.05,0.94,0.83,1.05,1.16,1.27,
1.1,1.32,1.21,1.27,1.32,1.27,1.21,1.27,1.38,1.1,1.21,1.32,
1.16,1.21,1.27,1.32,1.38,1.49,1.43,1.38,1.32,1.43,1.27,1.32,
1.43,1.32,1.21,1.38,1.32,1.38,1.43,1.76,1.65,1.6,1.43,1.16,
1.6,1.43,1.21,1.27,1.16,0.83,0.77,0.88,0.99,1.16,0.88,0.77,
1.05,0.72,1.21,1.16,1.05,1.1,1.16,1.21,1.05,1.27,0.99,1.27,
0.88,0.88,0.94,0.88,0.94,0.88,0.94,0.99,0.94,0.94,0.88,0.99,
1.27,1.16,1.16,1.1,1.16,1.1,1.1,1.16,1.1,1.16,1.21,1.38,
0.94,0.88,0.94,0.88,0.99,1.05,0.94,1.05,1.43,1.71,1.6,1.49,
1.43,1.38,1.43,1.49,1.6,1.49,1.49,1.43,1.16,0.77,0.88,0.94,
0.99,0.94,1.05,1.1,0.94,1.21,1.27,1.16,1.32,1.21,1.38,1.1];

// ---------- helpers ----------
const qYear = i => 1995 + i / 4;   // quarterly periods starting 1995Q1
const mYear = i => 1995 + i / 12;  // monthly periods starting 1995-01
const idx = i => i;                // period index for ratio panels
function rows(v, lo, hi, xOf) { return v.map((d, i) => ({x: xOf(i), v: d, lo: lo[i], hi: hi[i]})); }
const qTickIdx = quarterTickLabels.map((_, k) => k * 8);
const mTickIdx = monthTickLabels.map((_, k) => k * 24);
const qGrid = d3.range(0, 57, 4);
const mGrid = d3.range(0, 169, 12);

const FONT = "'Liberation Sans', Arial, sans-serif";
const root = document.getElementById("root");
function addDiv(cls, style, text) {
  const d = document.createElement("div");
  d.className = cls;
  Object.assign(d.style, style);
  if (text != null) d.textContent = text;
  root.appendChild(d);
  return d;
}

const yearFmt = d => String(d);
const panels = [
  {fx0: 22, fx1: 357, yDomain: [0.82, 10.35], xDomain: [1994.87, 2011.15], yTicks: [2,4,6,8,10], yFmt: d => String(d),
   xTicks: yearTicks, xFmt: yearFmt, grid: gridYears, ref: false, dots: true,
   facets: [{s: [4.3, 12.7], a: [12.7, 125.7], data: rows(rateA_F, rateA_F_lo, rateA_F_hi, qYear)},
            {s: [126.6, 134.3], a: [134.3, 247.3], data: rows(rateA_M, rateA_M_lo, rateA_M_hi, qYear), showX: true}],
   ylab: ["Standardized Suicide Rate", 4, 130], date: [189, 266.5]},
  {fx0: 406.7, fx1: 745, yDomain: [0.33, 3.2], xDomain: [-3.13, 63.07], yTicks: [1,2,3], yFmt: d => String(d),
   xTicks: qTickIdx, xFmt: d => quarterTickLabels[d / 8], grid: qGrid, ref: true, dots: false, bg: [384, 0, 366, 273],
   facets: [{s: [4.3, 12.7], a: [12.7, 126], data: rows(rrA_F, rrA_F_lo, rrA_F_hi, idx)},
            {s: [126.6, 134.3], a: [134.3, 247.3], data: rows(rrA_M, rrA_M_lo, rrA_M_hi, idx), showX: true}],
   ylab: ["Rate Ratio", 391.7, 126], date: [575, 266.5]},
  {fx0: 21.7, fx1: 357.3, yDomain: [0.9, 10.86], xDomain: [1994.87, 2011.15], yTicks: [2,4,6,8,10], yFmt: d => String(d),
   xTicks: yearTicks, xFmt: yearFmt, grid: gridYears, ref: false, dots: true,
   facets: [{s: [303.3, 311], a: [311, 423.5], data: rows(rateB_F, rateB_F_lo, rateB_F_hi, qYear)},
            {s: [425, 432.7], a: [432.7, 545.5], data: rows(rateB_M, rateB_M_lo, rateB_M_hi, qYear), showX: true}],
   ylab: ["Standardized Suicide Rate", 4, 426], date: [189, 565.3]},
  {fx0: 414.3, fx1: 744.3, yDomain: [0.633, 1.839], xDomain: [-3.36, 62.96], yTicks: [0.75,1,1.25,1.5,1.75], yFmt: d => d.toFixed(2),
   xTicks: qTickIdx, xFmt: d => quarterTickLabels[d / 8], grid: qGrid, ref: true, dots: false,
   facets: [{s: [303.3, 311], a: [311, 424], data: rows(rrB_F, rrB_F_lo, rrB_F_hi, idx)},
            {s: [425, 432.7], a: [432.7, 546], data: rows(rrB_M, rrB_M_lo, rrB_M_hi, idx), showX: true}],
   ylab: ["Rate Ratio", 391.7, 421.7], date: [574, 565.3]},
  {fx0: 18.3, fx1: 357.3, yDomain: [-0.27, 6.48], xDomain: [1994.845, 2011.155], yTicks: [0,2,4,6], yFmt: d => String(d),
   xTicks: yearTicks, xFmt: yearFmt, grid: gridYears, ref: false, dots: true,
   facets: [{s: [601.7, 609.3], a: [609.3, 722.7], data: rows(rateC_F, rateC_F_lo, rateC_F_hi, mYear)},
            {s: [722.9, 730.7], a: [730.7, 843.5], data: rows(rateC_M, rateC_M_lo, rateC_M_hi, mYear), showX: true}],
   ylab: ["Standardized Suicide Rate", 4, 725], date: [186.7, 863.3]},
  {fx0: 406.7, fx1: 745, yDomain: [0.27, 3.17], xDomain: [-9.77, 189.3], yTicks: [1,2,3], yFmt: d => String(d),
   xTicks: mTickIdx, xFmt: d => monthTickLabels[d / 24], grid: mGrid, ref: true, dots: false,
   facets: [{s: [601.7, 609.3], a: [609.3, 722.7], data: rows(rrC_F, rrC_F_lo, rrC_F_hi, idx)},
            {s: [722.9, 730.7], a: [730.7, 844], data: rows(rrC_M, rrC_M_lo, rrC_M_hi, idx), showX: true}],
   ylab: ["Rate Ratio", 391.7, 720], date: [574, 863.3]}
];

const ML = 26, MB = 15;
for (const p of panels) {
  if (p.bg) addDiv("", {position: "absolute", left: p.bg[0] + "px", top: p.bg[1] + "px", width: p.bg[2] + "px", height: p.bg[3] + "px", background: "#f7f7f7"});
  p.facets.forEach((f, k) => {
    addDiv("strip", {left: p.fx0 + "px", top: f.s[0] + "px", width: (p.fx1 - p.fx0) + "px", height: (f.s[1] - f.s[0] + 0.5) + "px"}, sexLabels[k]);
    const w = p.fx1 - p.fx0, h = f.a[1] - f.a[0];
    const mb = f.showX ? MB : 0;
    const svg = Plot.plot({
      width: w + ML, height: h + mb,
      marginLeft: ML, marginRight: 0, marginTop: 0, marginBottom: mb,
      style: {fontSize: "6px", fontFamily: FONT, color: "#333", background: "transparent", overflow: "visible"},
      x: {type: "linear", domain: p.xDomain, axis: f.showX ? "bottom" : null, ticks: p.xTicks, tickFormat: p.xFmt, tickSize: 3, tickPadding: 2, label: null},
      y: {type: "linear", domain: p.yDomain, ticks: p.yTicks, tickFormat: p.yFmt, tickSize: 3, tickPadding: 2, label: null},
      marks: [
        Plot.ruleX(p.grid, {stroke: "#e4e4e4", strokeWidth: 0.8}),
        Plot.areaY(f.data, {x: "x", y1: "lo", y2: "hi", fill: "#dedede", clip: true}),
        p.ref ? Plot.ruleY([1], {stroke: "#9a9a9a", strokeWidth: 1}) : null,
        Plot.lineY(f.data, {x: "x", y: "v", stroke: "#4d4d4d", strokeWidth: 0.9, clip: true}),
        p.dots ? Plot.dot(f.data, {x: "x", y: "v", r: 1.1, stroke: "#6a6a6a", strokeWidth: 0.6, fill: "none"}) : null,
        Plot.frame({stroke: "#b4b4b4"})
      ]
    });
    svg.style.position = "absolute";
    svg.style.left = (p.fx0 - ML) + "px";
    svg.style.top = f.a[0] + "px";
    svg.style.maxWidth = "none";
    root.appendChild(svg);
  });
  addDiv("lbl", {left: p.ylab[1] + "px", top: p.ylab[2] + "px", transform: "translate(-50%,-50%) rotate(-90deg)"}, p.ylab[0]);
  addDiv("lbl", {left: p.date[0] + "px", top: p.date[1] + "px", transform: "translate(-50%,-50%)"}, "Date");
}
</script>
</body></html>
